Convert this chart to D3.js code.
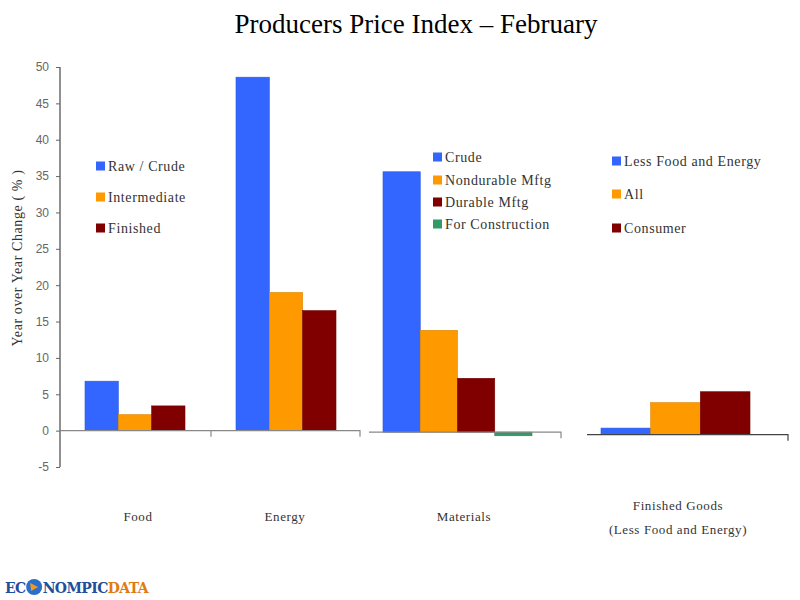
<!DOCTYPE html>
<html>
<head>
  <meta charset="utf-8">
  <script src="https://d3js.org/d3.v7.min.js"></script>
  <style type="text/css">
    body { margin: 0; background: #fff; }
    text { font-family: "Liberation Serif", serif; }
    .tick-label { font-family: "Liberation Sans", Arial, sans-serif; font-size: 12px; fill: #666; }
    .serif-label { font-size: 14px; fill: #333; letter-spacing: 0.6px; }
  </style>
</head>
<body>
  <script type="text/javascript">
    // chart values
    var yTicks = [-5, 0, 5, 10, 15, 20, 25, 30, 35, 40, 45, 50];

    var foodSeries = ["Raw / Crude", "Intermediate", "Finished"];
    var foodValues = [6.8, 2.2, 3.4];

    var energySeries = ["Raw / Crude", "Intermediate", "Finished"];
    var energyValues = [48.6, 19.0, 16.5];

    var materialSeries = ["Crude", "Nondurable Mftg", "Durable Mftg", "For Construction"];
    var materialValues = [35.8, 14.0, 7.4, -0.5];

    var finishedSeries = ["Less Food and Energy", "All", "Consumer"];
    var finishedValues = [0.9, 4.4, 5.9];

    var categories = ["Food", "Energy", "Materials", ["Finished Goods", "(Less Food and Energy)"]];

    var colors = ["#3366ff", "#ff9900", "#800000", "#339966"];

    var width = 800, height = 600;

    var svg = d3.select("body")
      .append("svg")
        .attr("width", width)
        .attr("height", height);

    svg.append("text")
      .attr("x", 416)
      .attr("y", 33)
      .attr("text-anchor", "middle")
      .style("font-size", "27px")
      .style("fill", "#000")
      .text("Producers Price Index \u2013 February");

    var y = d3.scaleLinear().domain([-5, 50]).range([467, 67]);

    // y axis (plain hyphen for negatives, like the original)
    var yAxis = d3.axisLeft(y).tickValues(yTicks).tickSize(4).tickFormat(function (d) { return String(d); });
    var ax = svg.append("g").attr("transform", "translate(60,0)").call(yAxis);
    ax.select(".domain").attr("stroke", "#222").attr("d", "M0," + y(-5) + "V" + y(50));
    ax.selectAll(".tick line").attr("stroke", "#666");
    ax.selectAll(".tick text").attr("class", "tick-label").attr("x", -11);

    svg.append("text")
      .attr("transform", "translate(22,258) rotate(-90)")
      .attr("text-anchor", "middle")
      .attr("class", "serif-label")
      .style("font-size", "14px")
      .text("Year over Year Change ( % )");

    // panels: x extent of baseline, x extent of the bars, baseline shift
    var panels = [
      { series: foodSeries, values: foodValues, x0: 60, x1: 211, b0: 85, b1: 185, dy: 0,
        legend: { x: 96, y: [166, 197, 228] } },
      { series: energySeries, values: energyValues, x0: 211, x1: 360, b0: 236, b1: 336, dy: 0,
        legend: null },
      { series: materialSeries, values: materialValues, x0: 369, x1: 561, b0: 383, b1: 532, dy: 1.5,
        legend: { x: 433, y: [157, 180, 202, 224] } },
      { series: finishedSeries, values: finishedValues, x0: 587, x1: 788, b0: 601, b1: 750, dy: 4,
        legend: { x: 612, y: [161, 194, 228] } }
    ];

    var catX = [138, 285, 464, 678];

    panels.forEach(function (p, i) {
      var g = svg.append("g").attr("transform", "translate(0," + p.dy + ")");
      var x = d3.scaleBand().domain(p.series).range([p.b0, p.b1]).padding(0);

      g.selectAll("rect.bar")
        .data(p.values)
        .enter().append("rect")
          .attr("class", "bar")
          .attr("x", function (d, j) { return x(p.series[j]); })
          .attr("width", x.bandwidth())
          .attr("y", function (d) { return y(Math.max(0, d)); })
          .attr("height", function (d) { return Math.abs(y(d) - y(0)); })
          .attr("fill", function (d, j) { return colors[j]; })
          .attr("stroke", function (d, j) { return d3.color(colors[j]).darker(0.4); })
          .attr("stroke-width", 0.6);

      // baseline with end tick
      g.append("path")
        .attr("d", "M" + p.x0 + "," + y(0) + "H" + p.x1 + "V" + (y(0) + 6))
        .attr("fill", "none")
        .attr("stroke", i === 3 ? "#444" : "#888")
        .attr("stroke-width", 1.2);

      if (p.legend) {
        var lg = svg.append("g");
        p.series.forEach(function (s, j) {
          lg.append("rect")
            .attr("x", p.legend.x)
            .attr("y", p.legend.y[j] - 4.5)
            .attr("width", 9)
            .attr("height", 9)
            .attr("fill", colors[j]);
          lg.append("text")
            .attr("x", p.legend.x + 12)
            .attr("y", p.legend.y[j] + 5)
            .attr("class", "serif-label")
            .text(s);
        });
      }

      var lab = svg.append("text")
        .attr("x", catX[i])
        .attr("text-anchor", "middle")
        .attr("class", "serif-label")
        .style("font-size", "13px");
      var lines = Array.isArray(categories[i]) ? categories[i] : [categories[i]];
      lab.attr("y", lines.length > 1 ? 510 : 521);
      lines.forEach(function (t, k) {
        lab.append("tspan").attr("x", catX[i]).attr("dy", k === 0 ? 0 : 24).text(t);
      });
    });

    // logo: one text, a gap for the globe after "EC"
    var logoText = svg.append("text")
      .attr("x", 5).attr("y", 593)
      .style("font-family", "'DejaVu Serif', serif").style("font-weight", "bold")
      .style("font-size", "14px").style("letter-spacing", "-0.6px");
    var ec = logoText.append("tspan").style("fill", "#1f4f9c").text("EC");
    logoText.append("tspan").attr("dx", 17).style("fill", "#1f4f9c").text("NOMPIC");
    logoText.append("tspan").style("fill", "#e07b10").text("DATA");
    var gx = 5 + ec.node().getComputedTextLength() + 8.5;
    svg.append("circle").attr("cx", gx).attr("cy", 587).attr("r", 8)
      .attr("fill", "#2a6fc9");
    svg.append("path")
      .attr("d", "M" + (gx - 4) + ",583 L" + (gx + 4) + ",587 L" + (gx - 3) + ",591 Z")
      .attr("fill", "#f29a1f");
  </script>
</body>
</html>
